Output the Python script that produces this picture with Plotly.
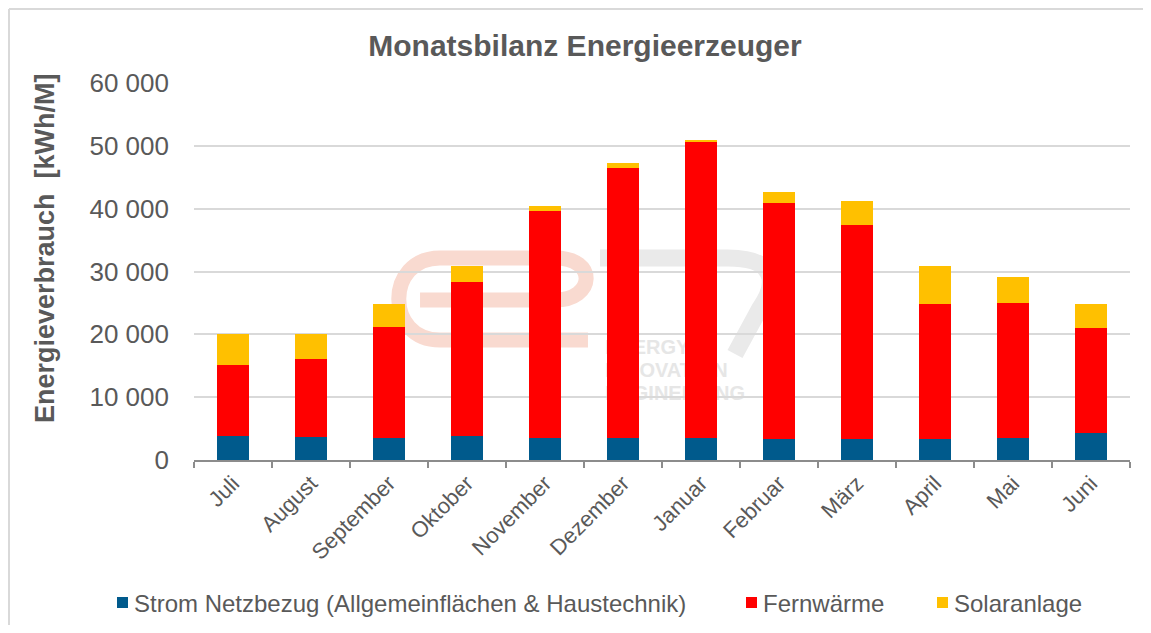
import plotly.graph_objects as go

months = ["Juli", "August", "September", "Oktober", "November", "Dezember",
          "Januar", "Februar", "März", "April", "Mai", "Juni"]
strom = [3900, 3600, 3450, 3900, 3450, 3450, 3450, 3300, 3300, 3300, 3500, 4250]
fernwaerme = [11200, 12500, 17700, 24400, 36100, 42950, 47250, 37600, 34150, 21550, 21550, 16700]
solar = [4900, 4000, 3700, 2650, 950, 800, 200, 1700, 3800, 6000, 4050, 3850]

names = ["Strom Netzbezug (Allgemeinflächen & Haustechnik)", "Fernwärme", "Solaranlage"]
colors = ["#005A8C", "#FF0000", "#FFC000"]

FONT = "Liberation Sans, Arial, sans-serif"
GREY = "#595959"

# page body has an 8px margin: work in screen pixels and shift
OFF = 8
W, H = 1151 - 2 * OFF, 633 - 2 * OFF
PLOT_X0, PLOT_X1, PLOT_Y0, PLOT_Y1 = 194, 1130, 83, 460   # screen pixels
L = PLOT_X0 - OFF
R = W - (PLOT_X1 - OFF)
T = PLOT_Y0 - OFF
B = H - (PLOT_Y1 - OFF)
pw = W - L - R
ph = H - T - B


def px(x):
    return (x - OFF - L) / pw


def py(y):
    return (H - B - (y - OFF)) / ph


fig = go.Figure()
for name, vals, col in zip(names, [strom, fernwaerme, solar], colors):
    fig.add_trace(go.Bar(x=months, y=vals, name=name, marker_color=col,
                         marker_line_width=0, showlegend=False))

fig.update_layout(
    width=W, height=H,
    margin=dict(l=L, r=R, t=T, b=B, autoexpand=False),
    barmode="stack", bargap=0.6,
    separators=", ",
    paper_bgcolor="white", plot_bgcolor="white",
    font=dict(family=FONT, color=GREY),
    title=dict(text="<b>Monatsbilanz Energieerzeuger</b>", x=(585 - OFF) / W,
               xref="container", xanchor="center", y=1 - (45 - OFF) / H,
               yref="container", yanchor="middle",
               font=dict(size=30, color=GREY, family=FONT)),
    showlegend=False,
)
fig.update_xaxes(showgrid=False, showline=True, linecolor="#8C8C8C", linewidth=1.5,
                 ticks="outside", tickson="boundaries", ticklen=6,
                 tickcolor="#8C8C8C", tickwidth=1.5, tickangle=-45,
                 tickfont=dict(size=22, color=GREY, family=FONT))
fig.update_yaxes(range=[0, 60000], dtick=10000, tickformat=",d",
                 showgrid=True, gridcolor="#D9D9D9", gridwidth=1.5,
                 showline=False, zeroline=False, ticks="",
                 ticklabelstandoff=24,
                 tickfont=dict(size=26, color=GREY, family=FONT))

# faint watermark logo (below gridlines and bars)
pts_e = [(420, 300), (555, 300), (595, 300), (598, 258), (555, 258), (440, 258),
         (385, 258), (385, 340), (440, 340), (588, 340)]
pts_7 = [(600, 258), (728, 258), (775, 258), (778, 282), (760, 308), (735, 354)]


def path_from(pts, cmds):
    out = []
    i = 0
    for c, n in cmds:
        seg = " ".join("{:.4f},{:.4f}".format(px(x), py(y)) for x, y in pts[i:i + n])
        out.append(c + " " + seg)
        i += n
    return " ".join(out)


fig.add_shape(type="path", xref="paper", yref="paper", layer="below",
              path=path_from(pts_e, [("M", 1), ("L", 1), ("C", 3), ("L", 1), ("C", 3), ("L", 1)]),
              line=dict(color="#F9DAD0", width=15))
fig.add_shape(type="path", xref="paper", yref="paper", layer="below",
              path=path_from(pts_7, [("M", 1), ("L", 1), ("C", 3), ("L", 1)]),
              line=dict(color="#EAEAEA", width=17))
for txt, ty in zip(["ENERGY", "INNOVATION", "ENGINEERING"], [345, 368, 391]):
    fig.add_shape(type="rect", xref="paper", yref="paper", layer="below",
                  x0=px(602), x1=px(790), y0=py(ty + 10), y1=py(ty - 10),
                  line_width=0, fillcolor="rgba(0,0,0,0)",
                  label=dict(text="<b>" + txt + "</b>", textposition="middle left",
                             padding=0,
                             font=dict(size=20, color="#E6E6E6", family=FONT)))

# y-axis title
fig.add_annotation(text="<b>Energieverbrauch  [kWh/M]</b>", textangle=-90,
                   xref="paper", yref="paper", x=px(45), y=py(248),
                   xanchor="center", yanchor="middle", showarrow=False,
                   font=dict(size=27, color=GREY, family=FONT))

# legend (manual placement)
legend_sq_x = [117, 746, 937]
for name, col, sx in zip(names, colors, legend_sq_x):
    fig.add_shape(type="rect", xref="paper", yref="paper",
                  x0=px(sx), x1=px(sx + 11), y0=py(597), y1=py(608),
                  fillcolor=col, line_width=0)
    fig.add_annotation(text=name, xref="paper", yref="paper",
                       x=px(sx + 15), y=py(603), xanchor="left", yanchor="middle",
                       showarrow=False,
                       font=dict(size=24, color=GREY, family=FONT))

# chart-frame lines (top and left)
fig.add_shape(type="line", xref="paper", yref="paper",
              x0=px(9), x1=px(1151), y0=py(9), y1=py(9),
              line=dict(color="#D9D9D9", width=2))
fig.add_shape(type="line", xref="paper", yref="paper",
              x0=px(9), x1=px(9), y0=py(9), y1=py(633),
              line=dict(color="#D9D9D9", width=2))

fig.write_html("out.html")
